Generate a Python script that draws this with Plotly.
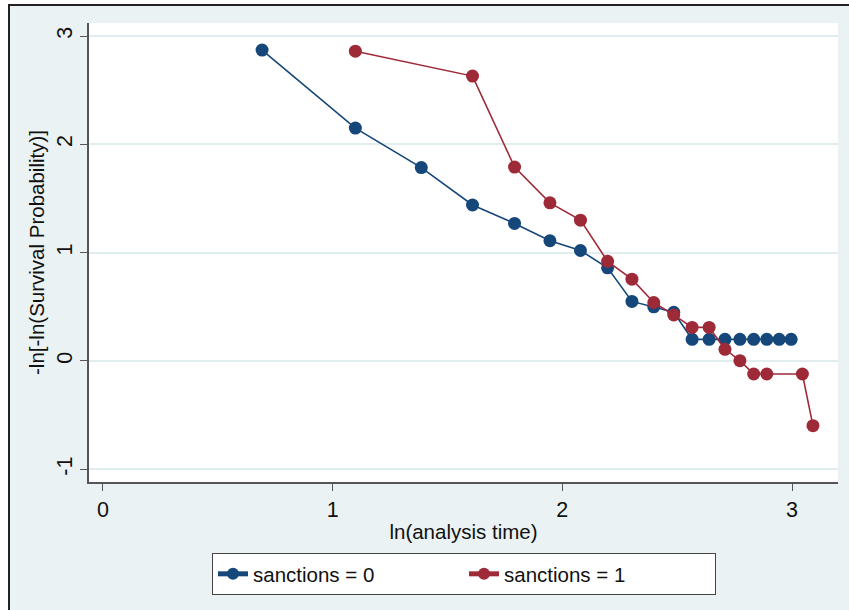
import plotly.graph_objects as go

# sanctions = 0
x0 = [0.693, 1.099, 1.386, 1.609, 1.792, 1.946, 2.079, 2.197, 2.303, 2.398, 2.485,
      2.565, 2.639, 2.708, 2.773, 2.833, 2.890, 2.944, 2.996]
y0 = [2.87, 2.15, 1.785, 1.44, 1.27, 1.11, 1.02, 0.86, 0.55, 0.50, 0.45,
      0.20, 0.20, 0.20, 0.20, 0.20, 0.20, 0.20, 0.20]
# sanctions = 1
x1 = [1.099, 1.609, 1.792, 1.946, 2.079, 2.197, 2.303, 2.398, 2.485, 2.565, 2.639,
      2.708, 2.773, 2.833, 2.890, 3.045, 3.091]
y1 = [2.86, 2.63, 1.79, 1.46, 1.30, 0.92, 0.755, 0.54, 0.425, 0.31, 0.31,
      0.108, 0.003, -0.12, -0.12, -0.12, -0.597]

names = ["sanctions = 0", "sanctions = 1"]
xticks = [0, 1, 2, 3]
yticks = [-1, 0, 1, 2, 3]

BLUE = "#15477a"
RED = "#9e2a38"
BG = "#eaf2f3"
FONT = "Liberation Sans, Arial, sans-serif"
FS = 20.5
TFS = 21.5

fig = go.Figure()
fig.add_trace(go.Scatter(x=x0, y=y0, mode="lines+markers", name=names[0],
                         line=dict(color=BLUE, width=1.6),
                         marker=dict(color=BLUE, size=13)))
fig.add_trace(go.Scatter(x=x1, y=y1, mode="lines+markers", name=names[1],
                         line=dict(color=RED, width=1.6),
                         marker=dict(color=RED, size=13)))

W, H = 849, 610
L, R, T, B = 89, 11, 23, 128
pw, ph = W - L - R, H - T - B

def px(x):
    return (x - L) / pw

def py(y):
    return (H - B - y) / ph

shapes = [
    dict(type="rect", xref="paper", yref="paper", x0=px(-2), x1=px(8), y0=py(612), y1=py(-2),
         fillcolor="white", line=dict(width=0), layer="below"),
    dict(type="rect", xref="paper", yref="paper", x0=px(-2), x1=px(851), y0=py(4), y1=py(-2),
         fillcolor="white", line=dict(width=0), layer="below"),
    dict(type="line", xref="paper", yref="paper", x0=px(8), x1=px(851), y0=py(5), y1=py(5),
         line=dict(color="#222222", width=2)),
    dict(type="line", xref="paper", yref="paper", x0=px(9), x1=px(9), y0=py(5), y1=py(612),
         line=dict(color="#222222", width=2)),
]

fig.update_layout(
    width=W, height=H,
    margin=dict(l=L, r=R, t=T, b=B, pad=0),
    paper_bgcolor=BG, plot_bgcolor="white",
    font=dict(family=FONT, size=FS, color="#111111"),
    shapes=shapes,
    showlegend=True,
    legend=dict(orientation="h", x=px(212), y=py(553), xanchor="left", yanchor="top",
                bgcolor="white", bordercolor="#444444", borderwidth=1,
                font=dict(size=FS), entrywidth=206, entrywidthmode="pixels",
                itemsizing="constant"),
    xaxis=dict(range=[-0.0605, 3.2], tickvals=xticks, ticktext=[str(v) for v in xticks],
               tickfont=dict(size=TFS),
               showgrid=False, zeroline=False, showline=True, linecolor="#555555", linewidth=1.5,
               ticks="outside", ticklen=7, tickcolor="#555555", tickwidth=1.2,
               title=dict(text="ln(analysis time)", standoff=4, font=dict(size=FS))),
    yaxis=dict(range=[-1.117, 3.12], tickvals=yticks, ticktext=[str(v) for v in yticks],
               tickangle=-90, tickfont=dict(size=TFS),
               showgrid=True, gridcolor="#e2edf0", gridwidth=1.5, zeroline=False,
               showline=True, linecolor="#555555", linewidth=1.5,
               ticks="outside", ticklen=7, tickcolor="#555555", tickwidth=1.2,
               title=dict(text="-ln[-ln(Survival Probability)]", standoff=2, font=dict(size=FS))),
)

fig.write_html("out.html")
